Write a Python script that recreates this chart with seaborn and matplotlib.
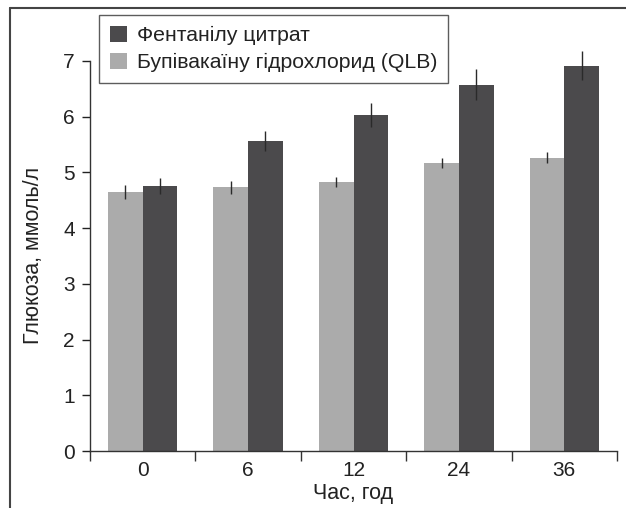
import numpy as np
import pandas as pd
import matplotlib
matplotlib.use("Agg")
import matplotlib.pyplot as plt
from matplotlib.lines import Line2D
from matplotlib.patches import Patch
import seaborn as sns

hours = ["0", "6", "12", "24", "36"]
bupi_mean = [4.65, 4.73, 4.83, 5.17, 5.26]
bupi_err = [0.13, 0.12, 0.09, 0.09, 0.10]
fent_mean = [4.76, 5.57, 6.03, 6.57, 6.91]
fent_err = [0.14, 0.18, 0.21, 0.28, 0.26]

bupi_name = "Бупівакаїну гідрохлорид (QLB)"
fent_name = "Фентанілу цитрат"
light = "#ababab"
dark = "#4b4a4c"

sns.set_theme(style="white")
plt.rcParams["font.family"] = ["Liberation Sans", "DejaVu Sans"]

df = pd.DataFrame({
    "hour": hours * 2,
    "glucose": bupi_mean + fent_mean,
    "group": [bupi_name] * 5 + [fent_name] * 5,
})

fig = plt.figure(figsize=(6.26, 5.08), dpi=100, facecolor="white")
ax = fig.add_axes([0.1438, 0.1122, 0.8418, 0.768])

sns.barplot(data=df, x="hour", y="glucose", hue="group", order=hours,
            hue_order=[bupi_name, fent_name], palette=[light, dark],
            width=0.66, errorbar=None, saturation=1, legend=False,
            linewidth=0, ax=ax)

# error bars at the bar centres that seaborn placed
for bars, means, errs in zip(ax.containers, [bupi_mean, fent_mean], [bupi_err, fent_err]):
    xs = [b.get_x() + b.get_width() / 2 for b in bars]
    ax.errorbar(xs, means, yerr=errs, fmt="none", ecolor="#2a2a2a",
                elinewidth=1, capsize=0, clip_on=False, zorder=5)

ax.set_ylim(0, 7)
ax.set_xlim(-0.5, 4.5)
ax.set_yticks(range(8))
ax.set_xticks(np.arange(-0.5, 5.0, 1.0), minor=True)
ax.tick_params(axis="x", which="major", length=0, labelsize=15, pad=7, colors="#222222")
ax.tick_params(axis="x", which="minor", length=7, width=1, direction="out", bottom=True, color="#333333")
ax.tick_params(axis="y", length=6, width=1, direction="out", left=True, labelsize=15, pad=5, colors="#222222")
for side in ["top", "right"]:
    ax.spines[side].set_visible(False)
for side in ["left", "bottom"]:
    ax.spines[side].set_color("#333333")
    ax.spines[side].set_linewidth(1)

ax.set_xlabel("Час, год", fontsize=15.5, color="#222222", labelpad=2)
ax.set_ylabel("Глюкоза, ммоль/л", fontsize=15.5, color="#222222", labelpad=14)

handles = [Patch(facecolor=dark, edgecolor="none"), Patch(facecolor=light, edgecolor="none")]
leg = fig.legend(handles, [fent_name, bupi_name], loc="upper left",
                 bbox_to_anchor=(0.158, 0.97), fontsize=15.3, frameon=True,
                 fancybox=False, edgecolor="#333333", handlelength=0.8,
                 handleheight=0.8, handletextpad=0.5, borderpad=0.5,
                 labelspacing=0.35, borderaxespad=0)
leg.get_frame().set_linewidth(1)
for t in leg.get_texts():
    t.set_color("#222222")

# outer frame of the figure (top and left edges)
fig.add_artist(Line2D([10 / 626, 10 / 626], [0, 1 - 8 / 508], color="#444444", lw=1.5))
fig.add_artist(Line2D([10 / 626, 1], [1 - 8 / 508, 1 - 8 / 508], color="#444444", lw=1.5))

fig.savefig("out.png", dpi=100, facecolor="white")
